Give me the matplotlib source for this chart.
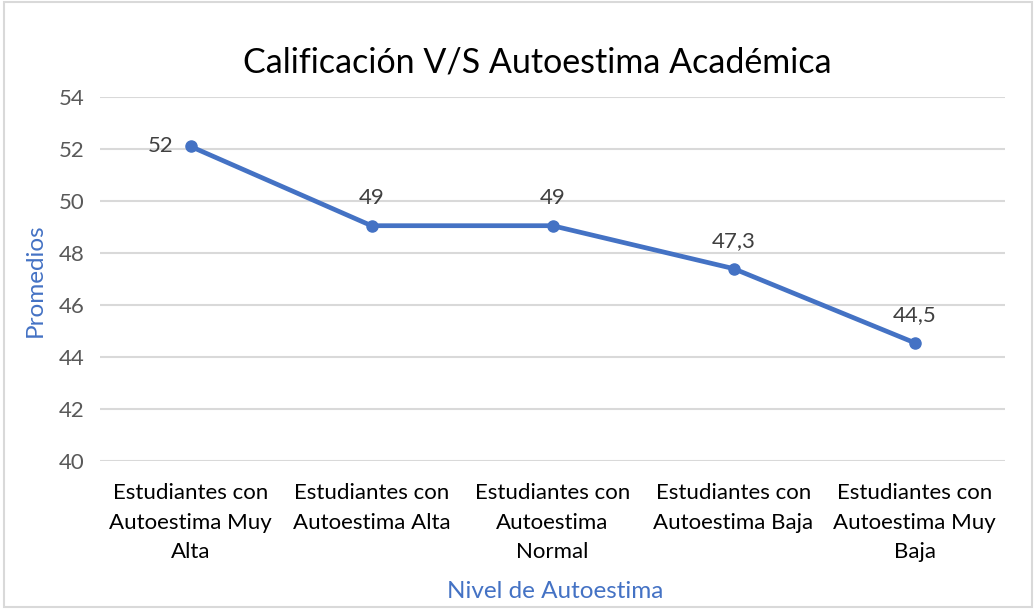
import matplotlib
matplotlib.use("Agg")
import matplotlib.pyplot as plt
from matplotlib.patches import Rectangle

categories = ["Estudiantes con\nAutoestima Muy\nAlta",
              "Estudiantes con\nAutoestima Alta",
              "Estudiantes con\nAutoestima\nNormal",
              "Estudiantes con\nAutoestima Baja",
              "Estudiantes con\nAutoestima Muy\nBaja"]
values = [52.1, 49.05, 49.05, 47.4, 44.55]
value_labels = ["52", "49", "49", "47,3", "44,5"]
yticks = [40, 42, 44, 46, 48, 50, 52, 54]

plt.rcParams['font.family'] = ['Lato', 'DejaVu Sans']
blue = "#4472C4"

fig = plt.figure(figsize=(10.36, 6.09), dpi=100)
ax = fig.add_axes([100/1036, 1-461/609, 905/1036, (461-97)/609])

x = list(range(len(categories)))
ax.plot(x, values, color=blue, lw=3.4, marker='o', ms=8, zorder=3, solid_capstyle='round')

for i, (v, lab) in enumerate(zip(values, value_labels)):
    if i == 0:
        ax.annotate(lab, (i, v), xytext=(-12, 0), textcoords='offset points',
                    ha='right', va='center', fontsize=16, color='#404040')
    else:
        ax.annotate(lab, (i, v), xytext=(0, 15.5), textcoords='offset points',
                    ha='center', va='baseline', fontsize=16, color='#404040')

ax.set_xlim(-0.5, len(categories)-0.5)
ax.set_ylim(40, 54)
ax.set_yticks(yticks)
ax.set_yticklabels([str(t) for t in yticks], fontsize=16, color='#595959')
ax.set_xticks(x)
ax.set_xticklabels(categories, fontsize=16, color='black', linespacing=1.6)
ax.tick_params(axis='both', length=0)
ax.tick_params(axis='y', pad=11)
ax.tick_params(axis='x', pad=16)
ax.grid(axis='y', color='#D9D9D9', lw=1.5)
ax.set_axisbelow(True)
for s in ax.spines.values():
    s.set_visible(False)

fig.text(35/1036, 1-280/609, "Promedios", fontsize=17.5, color=blue,
         ha='center', va='center', rotation=90)
fig.text(555/1036, 1-592/609, "Nivel de Autoestima", fontsize=17.5, color=blue,
         ha='center', va='center')
fig.text(537/1036, 1-62/609, "Calificación V/S Autoestima Académica", fontsize=24.5,
         color='black', ha='center', va='center')

fig.patches.append(Rectangle((0.004, 0.004), 0.992, 0.992, transform=fig.transFigure,
                             fill=False, ec='#D9D9D9', lw=1.5))

fig.savefig("out.png", dpi=100)
